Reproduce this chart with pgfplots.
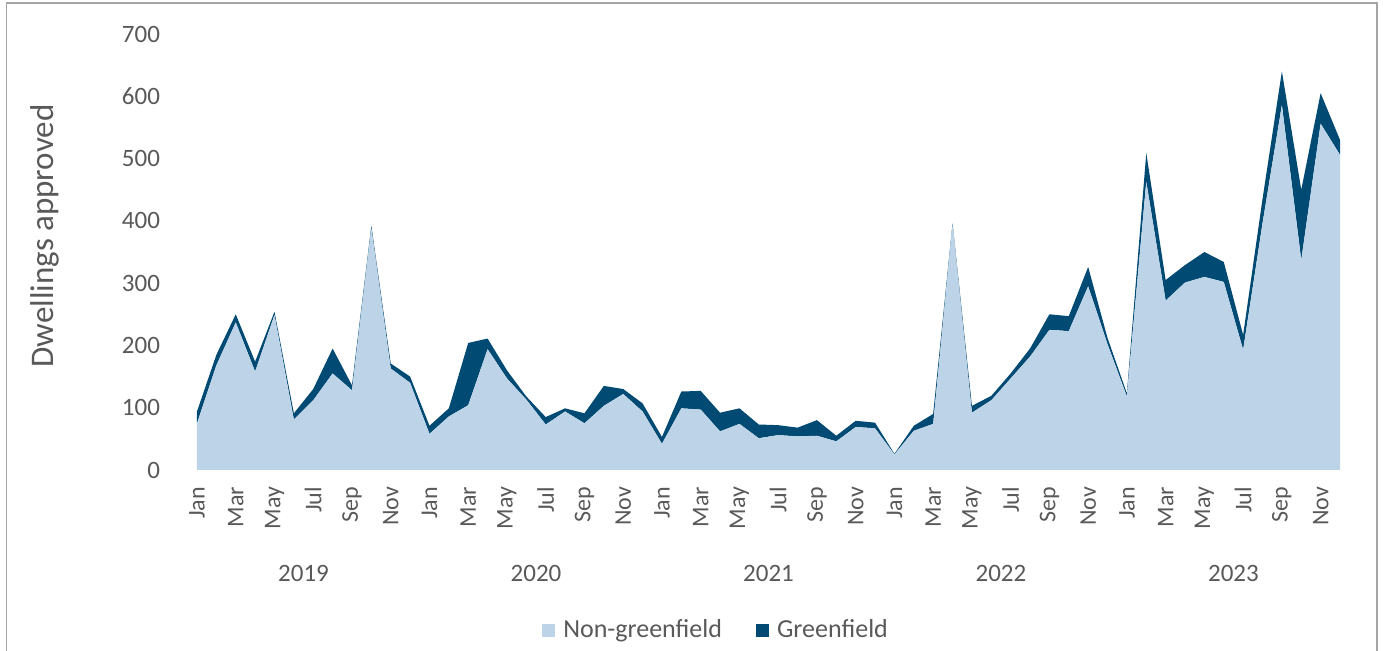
\documentclass[border=0pt]{standalone}
\usepackage{pgfplots}
\usepackage{pgfplotstable}
\pgfplotsset{compat=1.18}
\usepackage{fontspec}
\setmainfont{Carlito}
\definecolor{ng}{HTML}{BDD4E8}
\definecolor{gf}{HTML}{004A73}
\definecolor{txt}{HTML}{595959}
\definecolor{framec}{HTML}{A6A6A6}

\pgfplotstableread{
x ng g
0 75 19
1 168 17
2 237 13
3 158 16
4 249 5
5 81 10
6 112 18
7 155 40
8 128 8
9 388 4
10 163 8
11 140 10
12 58 13
13 86 13
14 104 100
15 194 17
16 147 13
17 113 5
18 73 12
19 94 5
20 75 16
21 103 32
22 122 8
23 94 13
24 42 11
25 99 27
26 97 30
27 62 30
28 74 25
29 51 22
30 56 16
31 54 14
32 55 25
33 46 9
34 69 10
35 67 9
36 25 1
37 63 8
38 74 16
39 394 2
40 92 11
41 112 7
42 147 8
43 182 13
44 225 25
45 223 24
46 295 31
47 202 10
48 118 5
49 463 46
50 272 33
51 301 28
52 310 40
53 302 32
54 193 24
55 396 39
56 586 54
57 337 113
58 556 49
59 506 24
}\datatable

\begin{document}
\begin{tikzpicture}
\useasboundingbox (-98.5pt,-90.5pt) rectangle (593pt,235pt);
\draw[framec, line width=0.75pt] (-95.25pt,-91pt) -- (-95.25pt,233.5pt) -- (590pt,233.5pt) -- (590pt,-91pt);
\begin{axis}[
  at={(0pt,0pt)}, anchor=south west,
  scale only axis, width=571.5pt, height=218pt,
  xmin=0, xmax=59, ymin=0, ymax=700,
  ytick={0,100,...,700},
  xtick={0,2,...,58},
  xticklabels={Jan,Mar,May,Jul,Sep,Nov,Jan,Mar,May,Jul,Sep,Nov,Jan,Mar,May,Jul,Sep,Nov,Jan,Mar,May,Jul,Sep,Nov,Jan,Mar,May,Jul,Sep,Nov},
  axis line style={draw=none}, tick style={draw=none},
  xticklabel shift=5pt,
  yticklabel shift=15pt,
  xticklabel style={rotate=90, anchor=east, font=\fontsize{12}{14}\selectfont, text=txt},
  yticklabel style={font=\fontsize{12.5}{15}\selectfont, text=txt},
  /pgf/number format/assume math mode=true,
  stack plots=y, clip=false,
  legend style={at={(axis description cs:0.455,-0.367)}, anchor=center, draw=none, fill=none,
    legend columns=2, font=\fontsize{13}{15}\selectfont, text=txt,
    /tikz/every even column/.append style={column sep=15pt}},
  legend image code/.code={\fill[#1] (0pt,-3.25pt) rectangle (6.5pt,3.25pt); \path (8.5pt,0pt);},
]
\addplot[fill=ng, draw=none] table[x=x, y=ng] {\datatable} \closedcycle;
\addlegendentry{Non-greenfield}
\addplot[fill=gf, draw=none] table[x=x, y=g] {\datatable} \closedcycle;
\addlegendentry{Greenfield}
\node[font=\fontsize{12.5}{15}\selectfont, text=txt, yshift=-51.5pt] at (axis cs:5.5,0) {2019};
\node[font=\fontsize{12.5}{15}\selectfont, text=txt, yshift=-51.5pt] at (axis cs:17.5,0) {2020};
\node[font=\fontsize{12.5}{15}\selectfont, text=txt, yshift=-51.5pt] at (axis cs:29.5,0) {2021};
\node[font=\fontsize{12.5}{15}\selectfont, text=txt, yshift=-51.5pt] at (axis cs:41.5,0) {2022};
\node[font=\fontsize{12.5}{15}\selectfont, text=txt, yshift=-51.5pt] at (axis cs:53.5,0) {2023};
\end{axis}
\node[rotate=90, font=\fontsize{16.5}{19}\selectfont, text=txt] at (-76pt,117pt) {Dwellings approved};
\end{tikzpicture}
\end{document}
